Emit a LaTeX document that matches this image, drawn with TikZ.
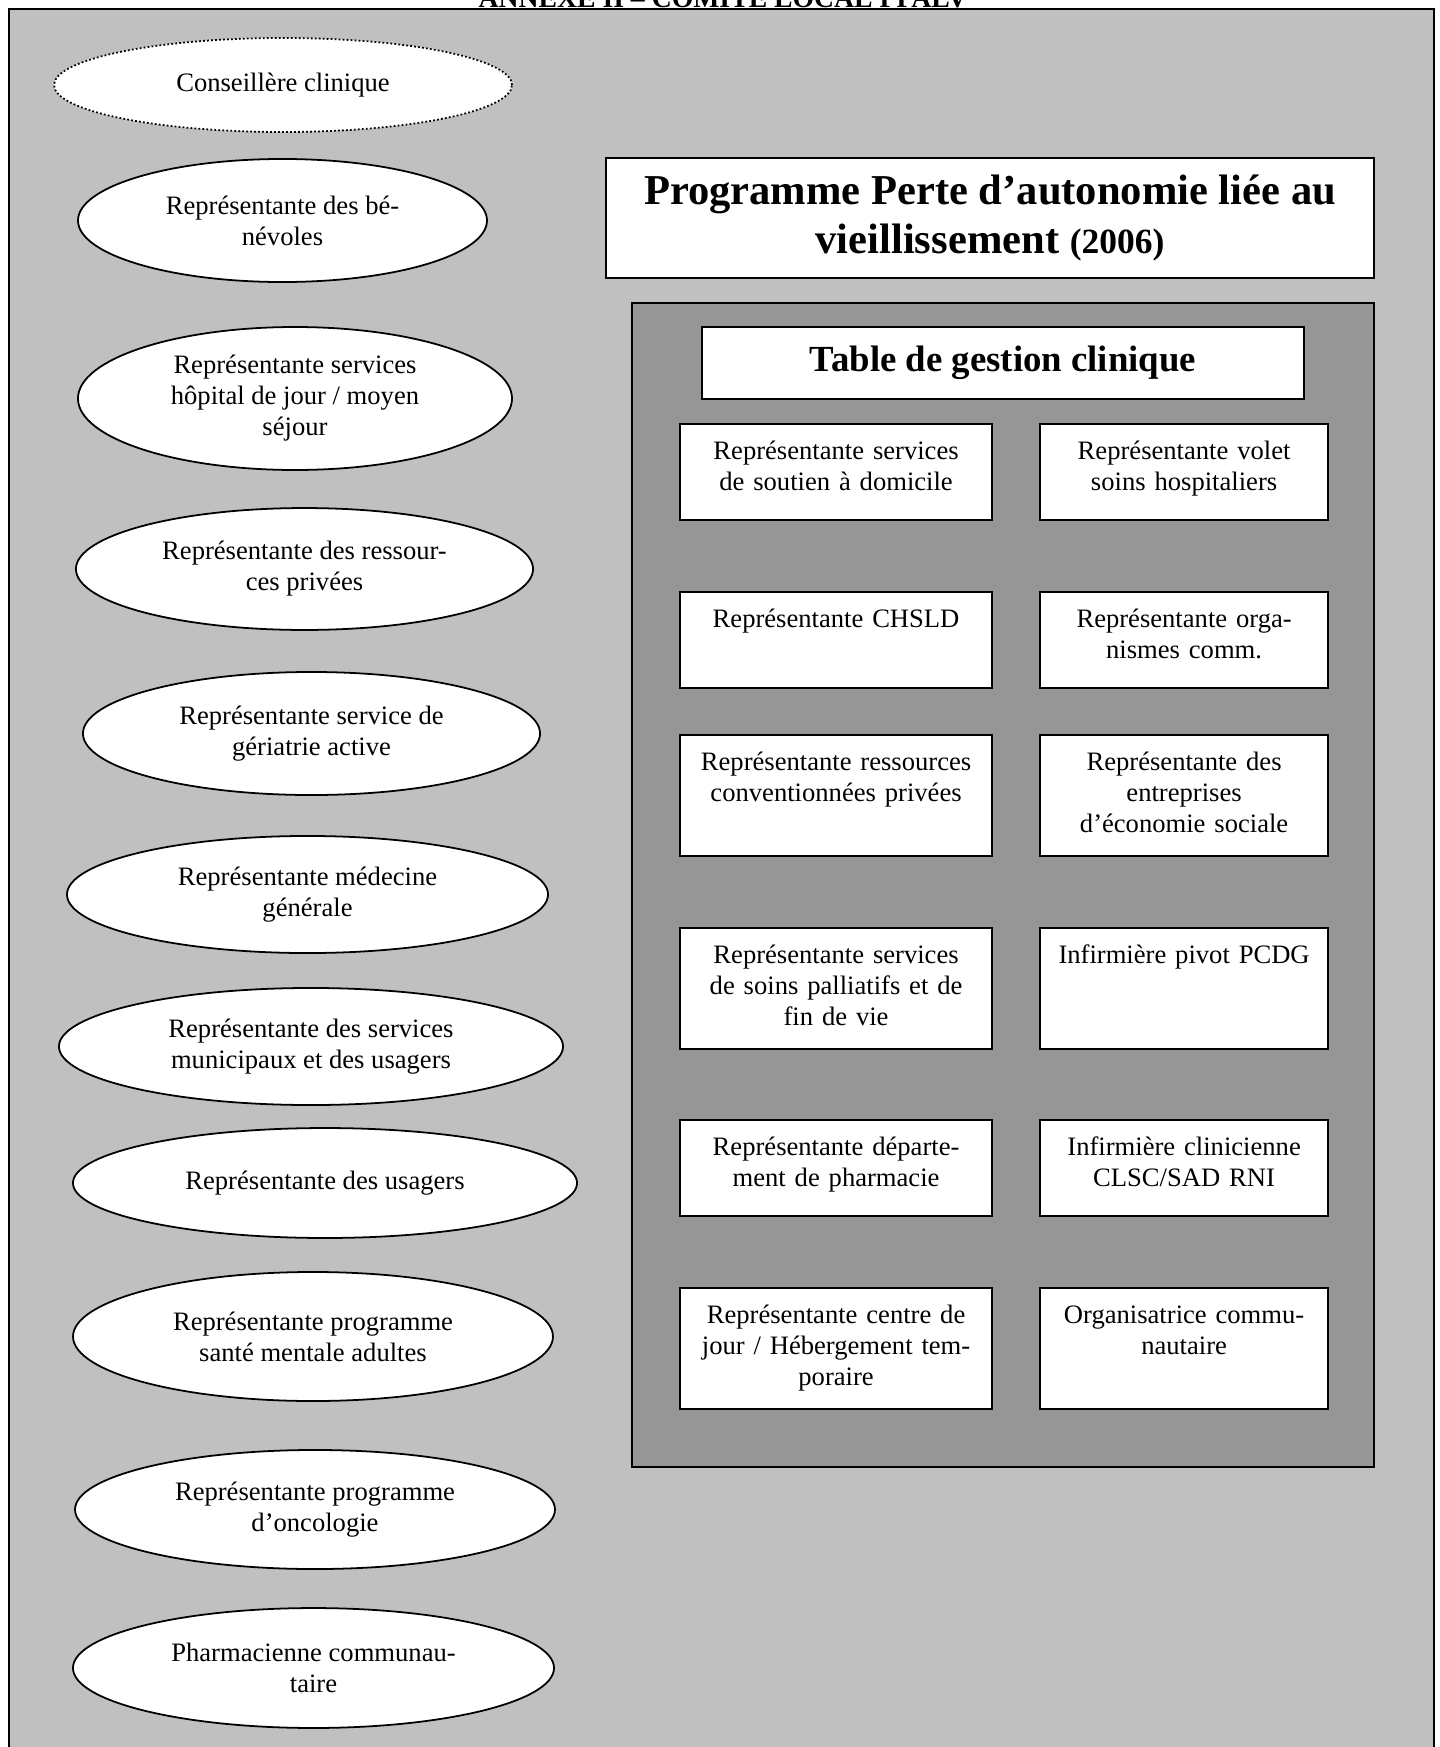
\documentclass[tikz,border=0pt]{standalone}
\usepackage{fontspec}
\setmainfont{Liberation Serif}
\usepackage{tikz}
\usetikzlibrary{shapes.geometric}
\definecolor{lightpanel}{RGB}{192,192,192}
\definecolor{darkpanel}{RGB}{150,150,150}

\begin{document}
\begin{tikzpicture}[x=0.4511pt, y=-0.4511pt, font=\fontsize{12}{14}\selectfont,
    member/.style={ellipse, draw, fill=white, line width=0.8pt, align=center, inner sep=0pt},
    seat/.style={draw, fill=white, line width=1pt, anchor=north west, align=center, inner sep=0pt, text height=16pt, text depth=27.3pt},
    wide/.style={text width=140.7pt},
    narrow/.style={text width=129.9pt},
    tall/.style={text depth=38.4pt},
    heading/.style={draw, fill=white, line width=1pt, align=center, inner sep=2pt, font=\bfseries\fontsize{19.2}{21.7}\selectfont}]
    \useasboundingbox (0,0) rectangle (1440,1747);
    \clip (0,0) rectangle (1440,1747);
    \node[font=\bfseries\fontsize{12.5}{14}\selectfont, anchor=base] (annexe) at (723,7) {ANNEXE II – COMITÉ LOCAL PPALV};
    \draw[line width=1pt, fill=lightpanel] (9,1760) -- (9,9) -- (1434,9) -- (1434,1760);

    \node[member, densely dotted, minimum width=206.6pt, minimum height=42.4pt] (conseil) at (283,85) {Conseillère clinique};
    \node[member, minimum width=184.5pt, minimum height=55.5pt] (benev) at (282.5,220.5) {Représentante des bé-\\névoles};
    \node[member, minimum width=195.8pt, minimum height=64.5pt] (hopjour) at (295,398.5) {Représentante services\\hôpital de jour / moyen\\séjour};
    \node[member, minimum width=206.2pt, minimum height=55pt] (ressprv) at (304.5,569) {Représentante des ressour-\\ces privées};
    \node[member, minimum width=206.2pt, minimum height=55.5pt] (geriat) at (311.5,733.5) {Représentante service de\\gériatrie active};
    \node[member, minimum width=217pt, minimum height=52.8pt] (medgen) at (307.5,894.5) {Représentante médecine\\générale};
    \node[member, minimum width=227.4pt, minimum height=52.8pt] (munic) at (311,1046.5) {Représentante des services\\municipaux et des usagers};
    \node[member, minimum width=227.4pt, minimum height=49.6pt] (usagers) at (325,1183) {Représentante des usagers};
    \node[member, minimum width=216.5pt, minimum height=58.2pt] (santment) at (313,1336.5) {Représentante programme\\santé mentale adultes};
    \node[member, minimum width=216.5pt, minimum height=53.7pt] (oncol) at (315,1509.5) {Représentante programme\\d’oncologie};
    \node[member, minimum width=217pt, minimum height=54.1pt] (pharmcom) at (313.5,1668) {Pharmacienne communau-\\taire};

    \node[heading, minimum width=346.4pt, minimum height=54.1pt] (prog) at (990,218) {Programme Perte d’autonomie liée au\\vieillissement {\fontsize{16}{21.7}\selectfont(2006)}};
    \draw[line width=1pt, fill=darkpanel] (632,303) rectangle (1374,1467);
    \node[heading, font=\bfseries\fontsize{16.6}{19}\selectfont, minimum width=271.6pt, minimum height=32.5pt] (table) at (1003,363) {Table de gestion clinique};

    \node[seat, wide] (soutien) at (679,423) {Représentante services\\de soutien à domicile};
    \node[seat, narrow] (volet) at (1039,423) {Représentante volet\\soins hospitaliers};
    \node[seat, wide] (chsld) at (679,591) {Représentante CHSLD};
    \node[seat, narrow] (orga) at (1039,591) {Représentante orga-\\nismes comm.};
    \node[seat, wide, tall] (convent) at (679,734) {Représentante ressources\\conventionnées privées};
    \node[seat, narrow, tall] (ecosoc) at (1039,734) {Représentante des\\entreprises\\d’économie sociale};
    \node[seat, wide, tall] (pallia) at (679,927) {Représentante services\\de soins palliatifs et de\\fin de vie};
    \node[seat, narrow, tall] (pivot) at (1039,927) {Infirmière pivot PCDG};
    \node[seat, wide] (pharmdep) at (679,1119) {Représentante départe-\\ment de pharmacie};
    \node[seat, narrow] (clinic) at (1039,1119) {Infirmière clinicienne\\CLSC/SAD RNI};
    \node[seat, wide, tall] (centre) at (679,1287) {Représentante centre de\\jour / Hébergement tem-\\poraire};
    \node[seat, narrow, tall] (organis) at (1039,1287) {Organisatrice commu-\\nautaire};
\end{tikzpicture}
\end{document}
